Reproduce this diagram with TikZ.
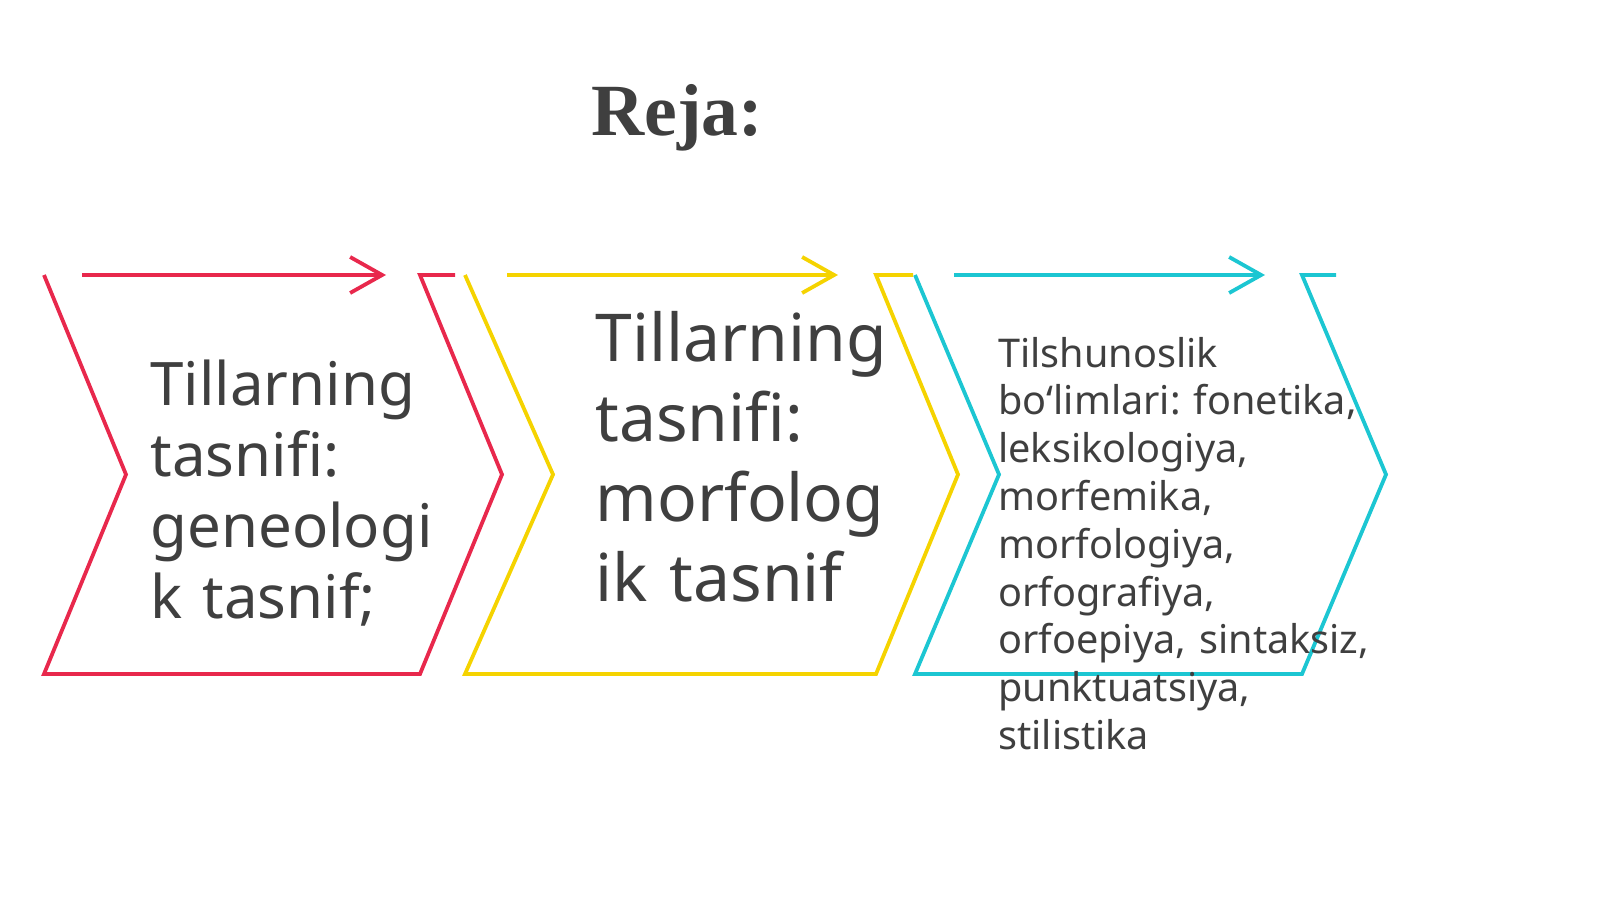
\documentclass[tikz,border=0pt]{standalone}
\usepackage{fontspec}
\setmainfont{Noto Sans}
\newfontfamily\titlefont{Liberation Serif}
\usepackage{xcolor}
\usetikzlibrary{arrows.meta}
\definecolor{chvred}{HTML}{E8284C}
\definecolor{chvyellow}{HTML}{F5D300}
\definecolor{chvcyan}{HTML}{1CC6D2}
\definecolor{txtgray}{HTML}{3F3F3F}
\newcommand{\chvtop}{275}
\newcommand{\chvmid}{474.5}
\newcommand{\chvbot}{674}
\frenchspacing
\tikzset{
  chevron/.style={line width=1.9pt, line join=miter},
  flowarrow/.style={line width=1.9pt,
    -{Straight Barb[length=16pt,width=18pt]}},
  steptext/.style={anchor=base west, inner sep=0pt, align=left,
    text width=#1, text=txtgray}
}
\begin{document}
\begin{tikzpicture}[x=0.5pt,y=-0.5pt]
    \useasboundingbox (0,0) rectangle (1600,899);

    \node[anchor=base west, inner sep=0pt, text=txtgray,
      font=\titlefont\bfseries\fontsize{36.8}{40}\selectfont]
      (title) at (591,135) {Reja:};

    % chevrons
    \draw[chevron, chvred] (44,\chvtop) -- (126,\chvmid)
      -- (44,\chvbot) -- (420,\chvbot) -- (502,\chvmid)
      -- (420,\chvtop) -- (455,\chvtop);
    \draw[chevron, chvyellow] (465,\chvtop) -- (553,\chvmid)
      -- (465,\chvbot) -- (876,\chvbot) -- (958,\chvmid)
      -- (876,\chvtop) -- (913,\chvtop);
    \draw[chevron, chvcyan] (915,\chvtop) -- (999,\chvmid)
      -- (915,\chvbot) -- (1302,\chvbot) -- (1386,\chvmid)
      -- (1302,\chvtop) -- (1336,\chvtop);

    % arrows on top
    \coordinate (redfrom) at (82,\chvtop);
    \coordinate (redto) at (386,\chvtop);
    \coordinate (yellowfrom) at (507,\chvtop);
    \coordinate (yellowto) at (838,\chvtop);
    \coordinate (cyanfrom) at (954,\chvtop);
    \coordinate (cyanto) at (1265,\chvtop);
    \draw[flowarrow, chvred] (redfrom) -- (redto);
    \draw[flowarrow, chvyellow] (yellowfrom) -- (yellowto);
    \draw[flowarrow, chvcyan] (cyanfrom) -- (cyanto);

    \node[steptext=150pt, font=\fontsize{30}{35.5}\selectfont]
      (genclass) at (150,405)
      {Tillarning\\ tasnifi:\\ geneologi\\ k tasnif;};
    \node[steptext=170pt, font=\fontsize{33}{40}\selectfont]
      (morclass) at (595,361.7)
      {Tillarning\\ tasnifi:\\ morfolog\\ ik tasnif};
    \node[steptext=220pt, font=\fontsize{19.8}{23.9}\selectfont]
      (branches) at (998,367)
      {Tilshunoslik\\ bo‘limlari: fonetika,\\ leksikologiya,\\
       morfemika,\\ morfologiya,\\ orfografiya,\\
       orfoepiya, sintaksiz,\\ punktuatsiya,\\ stilistika};
\end{tikzpicture}
\end{document}
